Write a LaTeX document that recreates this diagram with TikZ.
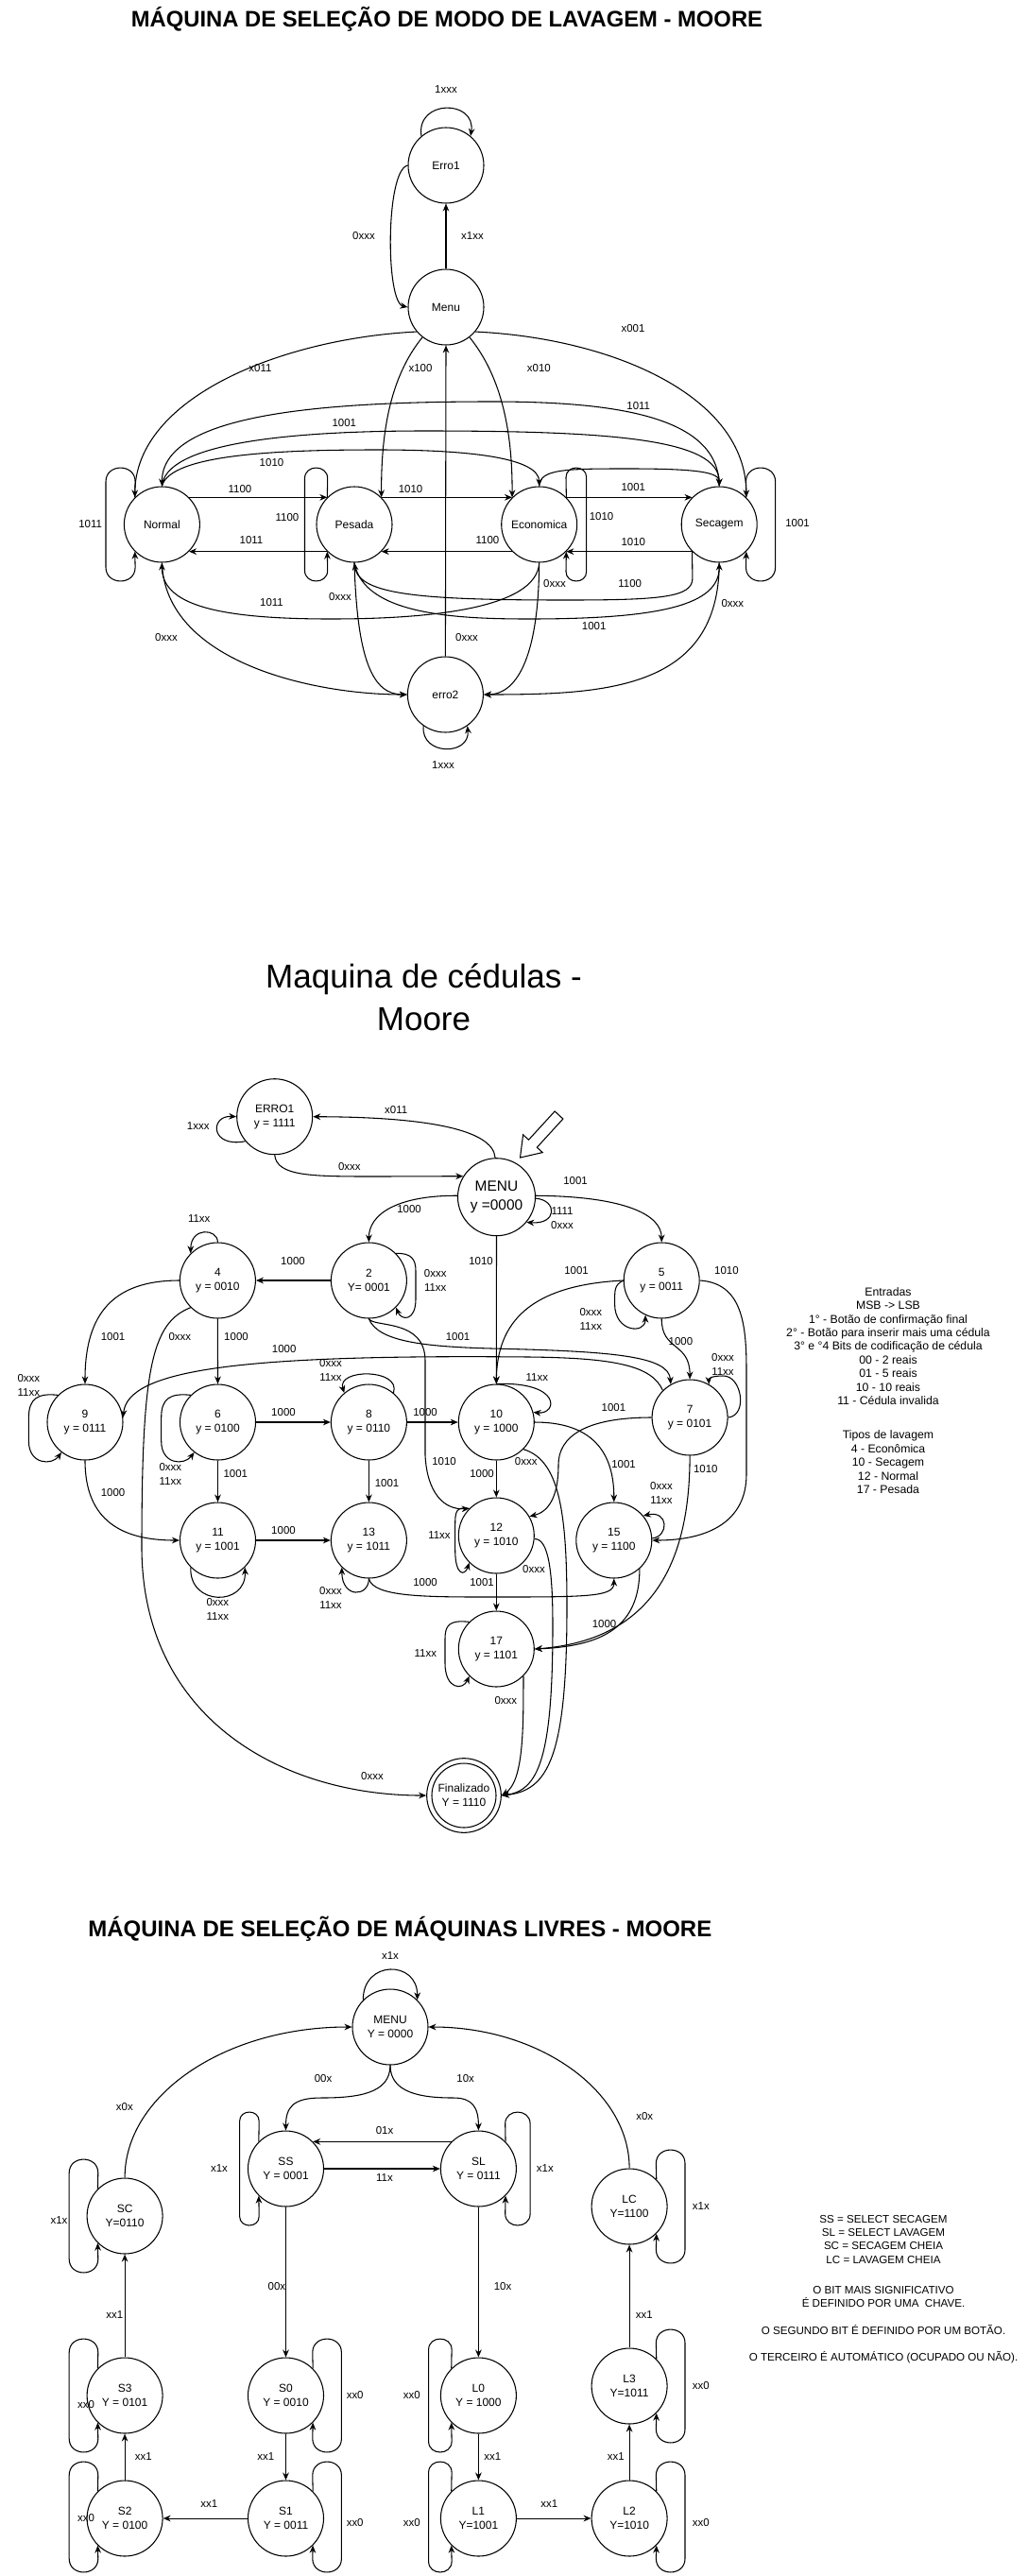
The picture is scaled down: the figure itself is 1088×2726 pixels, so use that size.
\documentclass[tikz,border=0pt]{standalone}
\usepackage{fontspec}
\setmainfont{Liberation Sans}
\usetikzlibrary{arrows.meta,calc}
\newcommand\vloop[6]{%
  \draw[arr] (#1) -- (#3,{-(#5)-0.47*abs((#4)-(#3))})
    to[out=90,in=90,looseness=1.6] (#4,{-(#5)-0.47*abs((#4)-(#3))})
    -- (#4,{-(#6)+0.47*abs((#4)-(#3))})
    to[out=-90,in=-90,looseness=1.6] (#3,{-(#6)+0.47*abs((#4)-(#3))})
    -- (#2);}
\begin{document}
\begin{tikzpicture}[x=0.75pt,y=0.75pt,
  st/.style={circle,draw,line width=0.8pt,minimum size=60pt,inner sep=0pt,align=center,font=\fontsize{9}{11.25}\selectfont},
  arr/.style={line width=0.8pt,-{Stealth[length=6pt,width=5pt]}},
  ln/.style={line width=0.8pt},
  lb/.style={font=\fontsize{8.6}{11.25}\selectfont,inner sep=0pt,align=center},
  lgA/.style={font=\fontsize{9.2}{10.8}\selectfont,inner sep=0pt,align=center},
  lgB/.style={font=\fontsize{8.7}{10.7}\selectfont,inner sep=0pt,align=center}]
\useasboundingbox (0,0) rectangle (1088,-2726);

%================ SECTION 1 =================
\node[font=\bfseries\fontsize{17.85}{20}\selectfont,inner sep=0pt] (title1) at (473,-20) {MÁQUINA DE SELEÇÃO DE MODO DE LAVAGEM - MOORE};

\node[st] (nE1) at (472,-175) {Erro1};
\node[st] (nMenu) at (472,-325) {Menu};
\node[st] (nNormal) at (171.4,-555) {Normal};
\node[st] (nPesada) at (375,-555) {Pesada};
\node[st] (nEcon) at (570.7,-555) {Economica};
\node[st] (nSec) at (761.2,-555) {Secagem};
\node[st] (nErro2) at (471.4,-735) {erro2};

\draw[arr] (nE1.130) .. controls (440,-105) and (504,-105) .. (nE1.50);
\draw[arr] (nE1.180) .. controls (408,-180) and (408,-320) .. (nMenu.180);
\draw[arr] (nMenu.90) -- (nE1.270);
\draw[arr] (nErro2.90) -- (nMenu.270);
\draw[arr] (nMenu.220) .. controls (300,-358) and (143.1,-420) .. (nNormal.135);
\draw[arr] (nMenu.320) .. controls (650,-358) and (789.5,-420) .. (nSec.45);
\draw[arr] (nMenu.232) .. controls (412,-400) and (403.3,-460) .. (nPesada.45);
\draw[arr] (nMenu.308) .. controls (532,-400) and (542.4,-460) .. (nEcon.135);

\draw[arr] (nNormal.45) -- (nPesada.135);
\draw[arr] (nPesada.225) -- (nNormal.315);
\draw[arr] (nPesada.45) -- (nEcon.135);
\draw[arr] (nEcon.225) -- (nPesada.315);
\draw[arr] (nEcon.45) -- (nSec.135);
\draw[arr] (nSec.225) -- (nEcon.315);

\vloop{nNormal.135}{nNormal.225}{143.1}{112}{495}{615}
\vloop{nPesada.135}{nPesada.225}{346.7}{322.5}{495}{615}
\vloop{nEcon.45}{nEcon.315}{599}{620.7}{495}{615}
\vloop{nSec.45}{nSec.315}{789.5}{820.6}{495}{615}
\draw[arr] (nErro2.235) .. controls (445,-800) and (498,-800) .. (nErro2.305);

\draw[arr] (nSec.90) .. controls (761.2,-440) and (650,-425) .. (520,-425) .. controls (330,-425) and (171.4,-440) .. (nNormal.90);
\draw[arr] (nNormal.90) .. controls (175,-470) and (300,-456) .. (450,-456) .. controls (650,-456) and (761.2,-465) .. (nSec.90);
\draw[arr] (nNormal.90) .. controls (180,-480) and (300,-476) .. (400,-476) .. controls (500,-476) and (570.7,-485) .. (nEcon.90);
\draw[arr] (nEcon.90) .. controls (571,-496) and (600,-496) .. (666,-496) .. controls (740,-496) and (761.2,-500) .. (nSec.90);

\draw[arr] (nEcon.270) .. controls (568,-645) and (450,-655) .. (350,-655) .. controls (230,-655) and (171.4,-640) .. (nNormal.270);
\draw[arr] (nNormal.270) .. controls (175,-700) and (330,-735) .. (nErro2.180);
\draw[arr] (nPesada.270) .. controls (378,-700) and (395,-735) .. (nErro2.180);
\draw[arr] (nSec.225) -- (732.9,-612) .. controls (732.9,-632) and (700,-635) .. (600,-635) .. controls (450,-635) and (380,-630) .. (nPesada.270);
\draw[arr] (nPesada.270) .. controls (385,-650) and (480,-655) .. (560,-655) .. controls (700,-655) and (761.2,-640) .. (nSec.270);
\draw[arr] (nEcon.270) .. controls (570,-700) and (545,-735) .. (nErro2.0);
\draw[arr] (nSec.270) .. controls (761,-730) and (640,-735) .. (nErro2.0);

\node[lb] (a01) at (472,-95) {1xxx};
\node[lb] (a02) at (385,-250) {0xxx};
\node[lb] (a03) at (500,-250) {x1xx};
\node[lb] (a04) at (670,-348) {x001};
\node[lb] (a05) at (275.5,-390) {x011};
\node[lb] (a06) at (445,-390) {x100};
\node[lb] (a07) at (570.4,-390) {x010};
\node[lb] (a08) at (364.3,-447.7) {1001};
\node[lb] (a09) at (287.5,-489.3) {1010};
\node[lb] (a10) at (675.7,-429.3) {1011};
\node[lb] (a11) at (254,-518) {1100};
\node[lb] (a12) at (266,-572) {1011};
\node[lb] (a13) at (434.6,-518) {1010};
\node[lb] (a14) at (516,-572) {1100};
\node[lb] (a15) at (670.3,-515.7) {1001};
\node[lb] (a16) at (670.3,-574) {1010};
\node[lb] (a17) at (95.7,-555) {1011};
\node[lb] (a18) at (304,-548) {1100};
\node[lb] (a19) at (636.6,-546.7) {1010};
\node[lb] (a20) at (844,-554) {1001};
\node[lb] (a21) at (469,-810) {1xxx};
\node[lb] (a22) at (287.5,-637.7) {1011};
\node[lb] (a23) at (176,-675) {0xxx};
\node[lb] (a24) at (360,-631.7) {0xxx};
\node[lb] (a25) at (494,-675) {0xxx};
\node[lb] (a26) at (666.7,-617.3) {1100};
\node[lb] (a27) at (628.7,-662.7) {1001};
\node[lb] (a28) at (587,-617.3) {0xxx};
\node[lb] (a29) at (775.3,-639) {0xxx};

%================ SECTION 2 =================
\node[font=\fontsize{26.25}{33.75}\selectfont,align=center,inner sep=0pt] (title2) at (448.5,-1055.5) {Maquina de cédulas -\\Moore};

\node[st] (cErro) at (290.7,-1181.7) {ERRO1\\y = 1111};
\node[st,minimum size=61.5pt,font=\fontsize{11.6}{15}\selectfont] (cMenu) at (525.5,-1266.7) {MENU\\y =0000};
\node[st] (c2) at (390.4,-1355) {2\\Y= 0001};
\node[st] (c4) at (230.4,-1355) {4\\y = 0010};
\node[st] (c5) at (700.2,-1355) {5\\y = 0011};
\node[st] (c9) at (90,-1505) {9\\y = 0111};
\node[st] (c6) at (230.5,-1505) {6\\y = 0100};
\node[st] (c8) at (390.4,-1505) {8\\y = 0110};
\node[st] (c10) at (525.3,-1505) {10\\y = 1000};
\node[st] (c7) at (730.1,-1500) {7\\y = 0101};
\node[st] (c11) at (230.5,-1630) {11\\y = 1001};
\node[st] (c13) at (390.4,-1630) {13\\y = 1011};
\node[st] (c12) at (525.3,-1625) {12\\y = 1010};
\node[st] (c15) at (649.8,-1630) {15\\y = 1100};
\node[st] (c17) at (525.3,-1745) {17\\y = 1101};
\node[st,minimum size=59pt] (cFin) at (491,-1900) {Finalizado\\Y = 1110};
\node[circle,draw,line width=0.8pt,minimum size=51pt,inner sep=0pt] (cFinIn) at (491,-1900) {};

\draw[line width=0.8pt] (550.5,-1225) -- (574.2,-1219.6) -- (568.3,-1214.2) -- (595.9,-1184) -- (587.1,-1176) -- (559.5,-1206.2) -- (553.6,-1200.8) -- cycle;

\draw[arr] (cMenu.92) .. controls (522,-1195) and (450,-1182) .. (cErro.0);
\draw[arr] (cErro.270) .. controls (293,-1245) and (330,-1245) .. (400,-1245) -- (cMenu.148);
\draw[arr] (cErro.220) .. controls (222,-1215) and (222,-1180) .. (cErro.180);
\draw[arr] (cMenu.-2) .. controls (590,-1270) and (590,-1296) .. (cMenu.-40);
\draw[arr] (cMenu.178) .. controls (420,-1265) and (390.4,-1285) .. (c2.90);
\draw[arr] (cMenu.2) .. controls (660,-1266) and (700.2,-1285) .. (c5.90);
\draw[arr] (cMenu.270) -- (c10.90);
\draw[arr] (c2.180) -- (c4.0);
\draw[arr] (c2.45) .. controls (435,-1326) and (440,-1332) .. (440,-1345) -- (440,-1375) .. controls (440,-1398) and (425,-1398) .. (c2.315);
\draw[arr] (c4.90) .. controls (230.4,-1300) and (202,-1298) .. (c4.135);
\draw[arr] (c4.180) .. controls (120,-1355) and (90,-1390) .. (c9.90);
\draw[arr] (c4.270) -- (c6.90);
\draw[arr] (c4.225) .. controls (160,-1400) and (150,-1450) .. (150,-1640) .. controls (152,-1820) and (300,-1900) .. (cFin.180);
\draw[arr] (c9.135) .. controls (40,-1474) and (30.4,-1480) .. (30.4,-1500) -- (30.4,-1525) .. controls (30.4,-1550) and (55,-1551) .. (c9.232);
\draw[arr] (c9.270) .. controls (90,-1610) and (130,-1630) .. (c11.180);
\draw[arr] (c6.135) .. controls (180,-1474) and (170.7,-1480) .. (170.7,-1500) -- (170.7,-1525) .. controls (170.7,-1550) and (195,-1551) .. (c6.232);
\draw[arr] (c6.0) -- (c8.180);
\draw[arr] (c6.270) -- (c11.90);
\draw[arr] (c8.50) .. controls (425,-1448) and (356,-1448) .. (c8.130);
\draw[arr] (c8.0) -- (c10.180);
\draw[arr] (c8.270) -- (c13.90);
\draw[arr] (c11.0) -- (c13.180);
\draw[arr] (c11.225) .. controls (200,-1700) and (261,-1700) .. (c11.315);
\draw[arr] (c13.270) .. controls (390.4,-1690) and (362,-1692) .. (c13.225);
\draw[arr] (c13.270) .. controls (395,-1690) and (450,-1690) .. (520,-1690) .. controls (620,-1690) and (649.8,-1690) .. (c15.270);
\draw[arr] (c10.90) .. controls (595,-1462) and (590,-1497) .. (c10.15);
\draw[arr] (c10.270) -- (c12.90);
\draw[arr] (c10.0) .. controls (620,-1505) and (649.8,-1530) .. (c15.90);
\draw[arr] (c10.315) .. controls (592,-1545) and (600,-1600) .. (600,-1700) .. controls (600,-1860) and (580,-1895) .. (cFin.0);
\draw[arr] (c12.355) .. controls (580,-1628) and (585,-1660) .. (585,-1720) .. controls (585,-1860) and (570,-1895) .. (cFin.0);
\draw[arr] (c17.315) .. controls (554,-1830) and (554,-1885) .. (cFin.0);
\draw[arr] (c12.270) -- (c17.90);
\draw[arr] (c12.135) .. controls (482,-1594) and (481.7,-1600) .. (481.7,-1615) -- (481.7,-1640) .. controls (481.7,-1668) and (492,-1668) .. (c12.225);
\draw[arr] (c2.270) .. controls (395,-1405) and (450,-1395) .. (450,-1440) -- (450,-1540) .. controls (452,-1580) and (470,-1598) .. (c12.135);
\draw[arr] (c2.270) .. controls (400,-1420) and (450,-1425) .. (520,-1427) .. controls (650,-1430) and (708,-1435) .. (c7.120);
\draw[arr] (c7.135) .. controls (690,-1445) and (650,-1437) .. (560,-1436) .. controls (250,-1433) and (135,-1450) .. (c9.7);
\draw[arr] (c5.180) .. controls (560,-1360) and (526,-1400) .. (c10.90);
\draw[arr] (c5.180) .. controls (650,-1360) and (650.6,-1365) .. (650.6,-1380) .. controls (650.6,-1410) and (683,-1412) .. (c5.245);
\draw[arr] (c5.270) .. controls (700.2,-1430) and (730.1,-1420) .. (c7.90);
\draw[arr] (c5.0) .. controls (785,-1358) and (790,-1400) .. (790,-1450) -- (790,-1560) .. controls (790,-1610) and (750,-1630) .. (c15.0);
\draw[arr] (c7.0) .. controls (792,-1498) and (785,-1455) .. (765,-1456) .. controls (755,-1456) and (750,-1458) .. (c7.60);
\draw[arr] (c7.180) .. controls (620,-1500) and (591,-1520) .. (591,-1550) .. controls (591,-1585) and (580,-1600) .. (c12.30);
\draw[arr] (c7.270) .. controls (730.1,-1640) and (700,-1735) .. (c17.0);
\draw[arr] (c15.312) .. controls (677,-1720) and (640,-1742) .. (c17.0);
\draw[arr] (c15.3) .. controls (708,-1626) and (708,-1598) .. (c15.40);
\draw[arr] (c17.135) .. controls (475,-1714) and (471,-1720) .. (471,-1735) -- (471,-1760) .. controls (471,-1788) and (490,-1789) .. (c17.225);

\node[lb] (b01) at (419.2,-1175) {x011};
\node[lb] (b02) at (369.8,-1235) {0xxx};
\node[lb] (b03) at (209.7,-1191.7) {1xxx};
\node[lb] (b04) at (595,-1289.5) {1111\\0xxx};
\node[lb] (b05) at (433,-1279.3) {1000};
\node[lb] (b06) at (609,-1249.3) {1001};
\node[lb] (b07) at (509,-1334.3) {1010};
\node[lb] (b08) at (210.7,-1290) {11xx};
\node[lb] (b09) at (310,-1334.3) {1000};
\node[lb] (b10) at (460.7,-1355.2) {0xxx\\11xx};
\node[lb] (b11) at (119.6,-1414.3) {1001};
\node[lb] (b12) at (190.4,-1414.3) {0xxx};
\node[lb] (b13) at (250,-1414.3) {1000};
\node[lb] (b14) at (300.7,-1427.7) {1000};
\node[lb] (b15) at (484.6,-1414.3) {1001};
\node[lb] (b16) at (610,-1344.3) {1001};
\node[lb] (b17) at (768.9,-1344.3) {1010};
\node[lb] (b18) at (625.4,-1395.8) {0xxx\\11xx};
\node[lb] (b19) at (720.4,-1419.3) {1000};
\node[lb] (b20) at (765,-1444.2) {0xxx\\11xx};
\node[lb] (b21) at (30.4,-1465.5) {0xxx\\11xx};
\node[lb] (b22) at (350,-1450.2) {0xxx\\11xx};
\node[lb] (b23) at (568.3,-1457.7) {11xx};
\node[lb] (b24) at (300,-1494.3) {1000};
\node[lb] (b25) at (450,-1494.3) {1000};
\node[lb] (b26) at (649.4,-1489.3) {1001};
\node[lb] (b27) at (180.4,-1560) {0xxx\\11xx};
\node[lb] (b28) at (249.3,-1559.3) {1001};
\node[lb] (b29) at (409.6,-1569.3) {1001};
\node[lb] (b30) at (470,-1546.7) {1010};
\node[lb] (b31) at (510,-1560) {1000};
\node[lb] (b32) at (556.7,-1546.7) {0xxx};
\node[lb] (b33) at (660,-1550) {1001};
\node[lb] (b34) at (746.8,-1554.3) {1010};
\node[lb] (b35) at (119.6,-1579.3) {1000};
\node[lb] (b36) at (700,-1580.2) {0xxx\\11xx};
\node[lb] (b37) at (465,-1625) {11xx};
\node[lb] (b38) at (300,-1619.3) {1000};
\node[lb] (b39) at (565,-1661) {0xxx};
\node[lb] (b40) at (450,-1674.3) {1000};
\node[lb] (b41) at (510,-1674.3) {1001};
\node[lb] (b42) at (350,-1691.2) {0xxx\\11xx};
\node[lb] (b43) at (230.4,-1703.2) {0xxx\\11xx};
\node[lb] (b44) at (639.6,-1719) {1000};
\node[lb] (b45) at (450.4,-1750) {11xx};
\node[lb] (b46) at (535.4,-1800) {0xxx};
\node[lb] (b47) at (394,-1879.3) {0xxx};

\node[lgA] (legA) at (940,-1471.5) {Entradas\\MSB -> LSB\\1° - Botão de confirmação final\\2° - Botão para inserir mais uma cédula\\3° e °4 Bits de codificação de cédula\\00 - 2 reais\\01 - 5 reais\\10 - 10 reais\\11 - Cédula invalida\\[16.5pt]Tipos de lavagem\\4 - Econômica\\10 - Secagem\\12 - Normal\\17 - Pesada};

%================ SECTION 3 =================
\node[font=\bfseries\fontsize{18}{20}\selectfont,inner sep=0pt] (title3) at (423.3,-2041.7) {MÁQUINA DE SELEÇÃO DE MÁQUINAS LIVRES - MOORE};

\node[st] (mMenu) at (413,-2145) {MENU\\Y = 0000};
\node[st] (mSS) at (302.5,-2295) {SS\\Y = 0001};
\node[st] (mSL) at (506.4,-2295) {SL\\Y = 0111};
\node[st] (mSC) at (132.1,-2345) {SC\\Y=0110};
\node[st] (mLC) at (666.1,-2335) {LC\\Y=1100};
\node[st] (mS3) at (132.1,-2535) {S3\\Y = 0101};
\node[st] (mS0) at (302.5,-2535) {S0\\Y = 0010};
\node[st] (mL0) at (506.4,-2535) {L0\\Y = 1000};
\node[st] (mL3) at (666.1,-2525) {L3\\Y=1011};
\node[st] (mS2) at (132.1,-2665) {S2\\Y = 0100};
\node[st] (mS1) at (302.5,-2665) {S1\\Y = 0011};
\node[st] (mL1) at (506.4,-2665) {L1\\Y=1001};
\node[st] (mL2) at (666.1,-2665) {L2\\Y=1010};

\draw[arr] (mMenu.135) .. controls (384,-2074) and (442,-2074) .. (mMenu.45);
\draw[arr] (mMenu.270) .. controls (413,-2215) and (380,-2220) .. (340,-2220) .. controls (310,-2220) and (302.5,-2230) .. (mSS.90);
\draw[arr] (mMenu.270) .. controls (413,-2215) and (446,-2220) .. (480,-2220) .. controls (500,-2220) and (506.4,-2230) .. (mSL.90);
\draw[arr] (mSC.90) .. controls (132.1,-2217) and (238,-2145) .. (mMenu.180);
\draw[arr] (mLC.90) .. controls (666.1,-2212) and (570,-2145) .. (mMenu.0);
\draw[arr] (mSL.135) -- (mSS.45);
\draw[arr] (mSS.0) -- (mSL.180);
\vloop{mSS.135}{mSS.225}{274.2}{253.6}{2235}{2355}
\vloop{mSL.45}{mSL.315}{534.7}{561.1}{2235}{2355}
\draw[arr] (mSS.270) -- (mS0.90);
\draw[arr] (mSL.270) -- (mL0.90);
\vloop{mSC.135}{mSC.225}{103.8}{73.2}{2285}{2405}
\draw[arr] (mS3.90) -- (mSC.270);
\vloop{mS3.135}{mS3.225}{103.8}{73.2}{2475}{2595}
\draw[arr] (mS2.90) -- (mS3.270);
\vloop{mS2.135}{mS2.225}{103.8}{73.2}{2605}{2722}
\draw[arr] (mS1.180) -- (mS2.0);
\draw[arr] (mS0.270) -- (mS1.90);
\vloop{mS0.45}{mS0.315}{330.8}{361.4}{2475}{2595}
\vloop{mS1.45}{mS1.315}{330.8}{361.4}{2605}{2722}
\vloop{mL0.135}{mL0.225}{478.1}{453.6}{2475}{2595}
\draw[arr] (mL0.270) -- (mL1.90);
\vloop{mL1.135}{mL1.225}{478.1}{453.6}{2605}{2722}
\draw[arr] (mL1.0) -- (mL2.180);
\draw[arr] (mL2.90) -- (mL3.270);
\draw[arr] (mL3.90) -- (mLC.270);
\vloop{mLC.45}{mLC.315}{694.4}{725}{2275}{2395}
\vloop{mL3.45}{mL3.315}{694.4}{725}{2465}{2585}
\vloop{mL2.45}{mL2.315}{694.4}{725}{2605}{2722}

\node[lb] (d01) at (413,-2070) {x1x};
\node[lb] (d02) at (342,-2200) {00x};
\node[lb] (d03) at (492.7,-2200) {10x};
\node[lb] (d04) at (131.9,-2230) {x0x};
\node[lb] (d05) at (682.2,-2240) {x0x};
\node[lb] (d06) at (407,-2255) {01x};
\node[lb] (d07) at (407,-2304.3) {11x};
\node[lb] (d08) at (232,-2295) {x1x};
\node[lb] (d09) at (576.9,-2295) {x1x};
\node[lb] (d10) at (292.9,-2420) {00x};
\node[lb] (d11) at (532.1,-2420) {10x};
\node[lb] (d12) at (62.5,-2350) {x1x};
\node[lb] (d13) at (121.4,-2450) {xx1};
\node[lb] (d14) at (91,-2545) {xx0};
\node[lb] (d15) at (151.8,-2600) {xx1};
\node[lb] (d16) at (91,-2665) {xx0};
\node[lb] (d17) at (221.4,-2650) {xx1};
\node[lb] (d18) at (281.4,-2600) {xx1};
\node[lb] (d19) at (375.7,-2535) {xx0};
\node[lb] (d20) at (375.7,-2670) {xx0};
\node[lb] (d21) at (435.7,-2535) {xx0};
\node[lb] (d22) at (521.4,-2600) {xx1};
\node[lb] (d23) at (435.7,-2670) {xx0};
\node[lb] (d24) at (581.4,-2650) {xx1};
\node[lb] (d25) at (651.9,-2600) {xx1};
\node[lb] (d26) at (681.9,-2450) {xx1};
\node[lb] (d27) at (741.9,-2335) {x1x};
\node[lb] (d28) at (741.9,-2525) {xx0};
\node[lb] (d29) at (741.9,-2670) {xx0};

\node[lgB] (legB) at (935,-2422.5) {SS = SELECT SECAGEM\\SL = SELECT LAVAGEM\\SC = SECAGEM CHEIA\\LC = LAVAGEM CHEIA\\[13.3pt]O BIT MAIS SIGNIFICATIVO\\É DEFINIDO POR UMA\ \ CHAVE.\\[11.5pt]O SEGUNDO BIT É DEFINIDO POR UM BOTÃO.\\[10pt]O TERCEIRO É AUTOMÁTICO (OCUPADO OU NÃO).};
\end{tikzpicture}
\end{document}
